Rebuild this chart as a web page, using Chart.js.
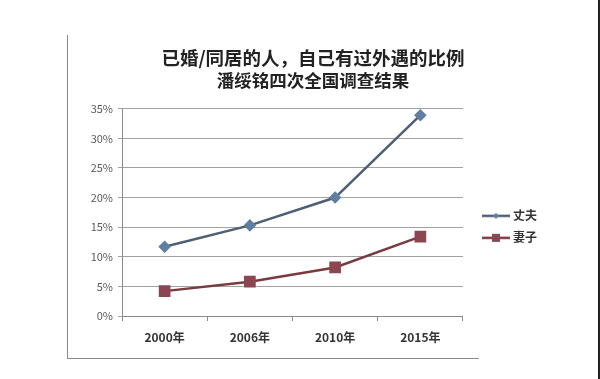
<!DOCTYPE html>
<html><head><meta charset="utf-8">
<script src="https://cdn.jsdelivr.net/npm/chart.js@4"></script>
<style>
html,body{margin:0;padding:0;background:#fff;}
#wrap{position:relative;width:600px;height:379px;overflow:hidden;}
#frame{position:absolute;left:67px;top:35px;width:411px;height:323px;border-left:1px solid #8a8a8a;border-bottom:1px solid #8a8a8a;}
#edge{position:absolute;left:598px;top:0;width:2px;height:379px;background:#222;}
canvas{position:absolute;left:0;top:0;}
</style></head>
<body>
<div id="wrap">
<div id="frame"></div>
<canvas id="c" width="600" height="379"></canvas>
<div id="edge"></div>
</div>
<script>
const titleText = '已婚/同居的人，自己有过外遇的比例';
const subtitleText = '潘绥铭四次全国调查结果';
const categories = ['2000年', '2006年', '2010年', '2015年'];
const seriesNames = ['丈夫', '妻子'];
const husband = [11.7, 15.3, 20.0, 33.9];
const wife = [4.2, 5.8, 8.2, 13.4];
const yTicks = [0, 5, 10, 15, 20, 25, 30, 35];

const blueLine = '#4d6075', blueMark = '#5f7ea2';
const redLine = '#7a3a3f', redMark = '#8b4652';
const FONT = '"Noto Sans CJK SC", "Noto Sans", sans-serif';

function legendIcon(lineColor, markColor, shape) {
  const cv = document.createElement('canvas');
  cv.width = 40; cv.height = 12;
  const g = cv.getContext('2d');
  g.strokeStyle = lineColor; g.lineWidth = 2.5;
  g.beginPath(); g.moveTo(12, 6); g.lineTo(40, 6); g.stroke();
  g.fillStyle = markColor;
  if (shape === 'diamond') {
    g.beginPath(); g.moveTo(26, 3); g.lineTo(29, 6); g.lineTo(26, 9); g.lineTo(23, 6); g.closePath(); g.fill();
  } else {
    g.fillRect(22, 2, 8, 8);
  }
  return cv;
}
const icons = [legendIcon(blueLine, blueMark, 'diamond'), legendIcon(redLine, redMark, 'square')];

new Chart(document.getElementById('c'), {
  type: 'line',
  data: {
    labels: categories,
    datasets: [
      {label: seriesNames[0], data: husband, borderColor: blueLine, backgroundColor: blueMark, borderWidth: 2.5,
       pointStyle: 'rectRot', pointRadius: 4.5, pointBackgroundColor: blueMark, pointBorderColor: blueMark, tension: 0},
      {label: seriesNames[1], data: wife, borderColor: redLine, backgroundColor: redMark, borderWidth: 2.5,
       pointStyle: 'rect', pointRadius: 6.5, pointBackgroundColor: redMark, pointBorderColor: redMark, tension: 0}
    ]
  },
  options: {
    responsive: false,
    animation: false,
    layout: {padding: {left: 79, right: 53, top: 0, bottom: 23}},
    plugins: {
      tooltip: {enabled: false},
      title: {display: true, text: titleText, color: '#222', font: {family: FONT, size: 18.5, weight: 'bold'}, padding: {top: 46.5, bottom: 0}},
      subtitle: {display: true, text: subtitleText, color: '#222', font: {family: FONT, size: 17.5, weight: 'bold'}, padding: {top: 1, bottom: 18}},
      legend: {
        position: 'right', fullSize: false,
        title: {display: true, text: ' ', font: {size: 12}, padding: 7.3},
        labels: {
          usePointStyle: true, pointStyleWidth: 34, padding: 10,
          color: '#333', font: {family: FONT, size: 12, weight: 'bold'},
          generateLabels: (chart) => chart.data.datasets.map((d, i) => ({
            text: d.label, pointStyle: icons[i], datasetIndex: i, fontColor: '#333',
            fillStyle: 'transparent', strokeStyle: 'transparent', lineWidth: 0, hidden: false
          }))
        }
      }
    },
    scales: {
      x: {
        offset: true,
        afterFit: (s) => { s.height = 40; },
        grid: {display: true, offset: true, drawOnChartArea: false, drawTicks: true, tickLength: 5, color: '#8a8a8a'},
        border: {display: true, color: '#8a8a8a'},
        ticks: {color: '#333', padding: 9, font: {family: FONT, size: 12, weight: 'bold'}}
      },
      y: {
        min: 0, max: 35,
        afterFit: (s) => { s.width = 43; },
        afterBuildTicks: (s) => { s.ticks = yTicks.map(v => ({value: v})); },
        grid: {color: '#a2a2a2', lineWidth: 1, drawTicks: true, tickLength: 4},
        border: {display: true, color: '#8a8a8a'},
        ticks: {color: '#595959', padding: 5, font: {family: FONT, size: 11}, callback: (v) => v + '%'}
      }
    }
  }
});
</script>
</body></html>
